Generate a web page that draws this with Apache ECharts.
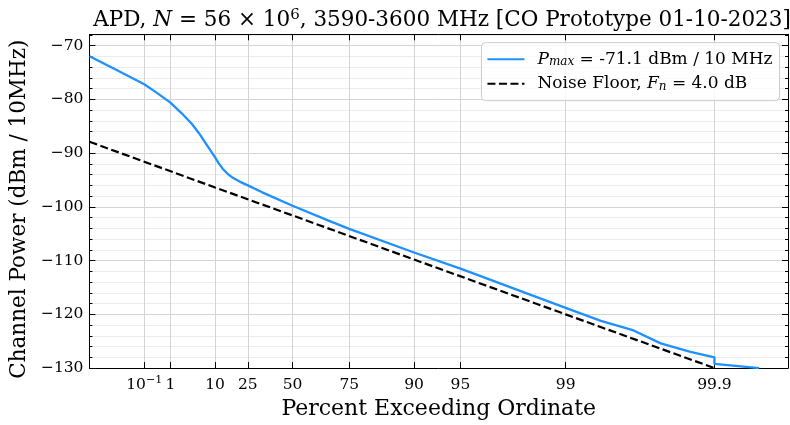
<!DOCTYPE html>
<html>
<head>
<meta charset="utf-8">
<script src="https://cdn.jsdelivr.net/npm/echarts@6/dist/echarts.min.js"></script>
<style>html,body{margin:0;padding:0;background:#fff}#c{width:790px;height:425px}</style>
</head>
<body>
<div id="c"></div>
<script>
// ---- data ----
const xTickPct = [0.1, 1, 10, 25, 50, 75, 90, 95, 99, 99.9];
const xTickLabels = ['10^-1', '1', '10', '25', '50', '75', '90', '95', '99', '99.9'];
const yTicks = [-130, -120, -110, -100, -90, -80, -70];

const apdPct = [1e-5, 0.0027, 0.1, 0.344, 1, 2.1, 3.7, 5.2, 6.7, 8.2, 10, 11.35, 12.9, 15.1, 17.8, 20.7, 25, 33, 50, 68, 75, 90, 95, 99, 99.42, 99.65, 99.77, 99.855, 99.9, 99.9, 99.95];
const apdDb  = [-72.0, -74.6, -77.2, -78.8, -80.6, -82.6, -84.6, -86.3, -87.9, -89.3, -90.8, -91.9, -92.9, -93.9, -94.7, -95.3, -96.0, -97.3, -99.8, -102.7, -104.1, -108.5, -111.5, -118.8, -121.2, -123.0, -125.4, -127.0, -128.0, -129.2, -130.0];

const noisePct = [1e-5, 0.1, 10, 50, 90, 99, 99.9];
const noiseDb  = [-87.9, -91.6, -96.4, -101.6, -109.8, -120.0, -130.0];

// Rayleigh-paper axis transform
function ray(p) { return -Math.log10(-Math.log(p / 100)); }

const FONT = 'DejaVu Serif';
const xTickVals = xTickPct.map(ray);
function xLabel(v) {
  let best = 0, bd = Infinity;
  xTickVals.forEach((t, i) => { const d = Math.abs(t - v); if (d < bd) { bd = d; best = i; } });
  const s = xTickLabels[best];
  if (s.indexOf('^') >= 0) {
    const parts = s.split('^');
    return '{b|' + parts[0] + '}{s|' + parts[1].replace('-', '\u2212') + '}';
  }
  return '{b|' + s + '}';
}

const X_MIN = -1.208, X_MAX = 3.495;
const chart = echarts.init(document.getElementById('c'), null, { renderer: 'canvas' });

const option = {
  animation: false,
  backgroundColor: '#ffffff',
  textStyle: { fontFamily: FONT },
  title: {
    text: 'APD, {i|N} = 56 × 10{sup|6}, 3590-3600 MHz [CO Prototype 01-10-2023]',
    left: 437, top: 3, textAlign: 'center',
    textStyle: {
      fontFamily: FONT, fontSize: 21.5, fontWeight: 'normal', color: '#000',
      rich: {
        i: { fontFamily: FONT, fontSize: 21.5, fontStyle: 'italic', color: '#000' },
        sup: { fontFamily: FONT, fontSize: 15, color: '#000', verticalAlign: 'top', padding: [0, 0, 9, 0] }
      }
    }
  },
  grid: { left: 87.3, right: 2, top: 34.3, bottom: 51.7 },
  legend: {
    right: 10.5, top: 42.7, orient: 'vertical',
    itemWidth: 37, itemHeight: 14, itemGap: 7,
    padding: [8, 7, 8, 5],
    backgroundColor: 'rgba(255,255,255,0.8)',
    borderColor: '#cccccc', borderWidth: 1, borderRadius: 4,
    itemStyle: { opacity: 0 },
    formatter: function (name) {
      if (name === 'apd') return '{g|}{i|P}{sub|max}{t| = -71.1 dBm / 10 MHz}';
      return '{g|}{t|Noise Floor, }{i|F}{sub|n}{t| = 4.0 dB}';
    },
    textStyle: {
      fontFamily: FONT, fontSize: 17, color: '#000',
      rich: {
        g: { width: 8 },
        t: { fontFamily: FONT, fontSize: 17, color: '#000' },
        i: { fontFamily: FONT, fontSize: 17, fontStyle: 'italic', color: '#000' },
        sub: { fontFamily: FONT, fontSize: 12, fontStyle: 'italic', color: '#000', verticalAlign: 'bottom', padding: [6, 0, 0, 0] }
      }
    },
    data: ['apd', 'noise']
  },
  xAxis: [
    {
      type: 'value', min: X_MIN, max: X_MAX, position: 'bottom',
      name: 'Percent Exceeding Ordinate', nameLocation: 'middle', nameGap: 29,
      nameTextStyle: { fontFamily: FONT, fontSize: 22, color: '#000' },
      axisLine: { show: true, onZero: false, lineStyle: { color: '#000', width: 1 } },
      axisTick: { show: true, inside: true, length: 6, customValues: xTickVals, lineStyle: { color: '#000' } },
      axisLabel: {
        show: true, customValues: xTickVals, margin: 7, formatter: xLabel,
        rich: {
          b: { fontFamily: FONT, fontSize: 15.5, color: '#000', lineHeight: 20 },
          s: { fontFamily: FONT, fontSize: 11, color: '#000', verticalAlign: 'top', padding: [0, 0, 8, 0] }
        }
      },
      splitLine: { show: true, lineStyle: { color: '#d4d4d4', width: 1 } }
    },
    {
      type: 'value', min: X_MIN, max: X_MAX, position: 'top',
      axisLine: { show: true, onZero: false, lineStyle: { color: '#000', width: 1 } },
      axisTick: { show: true, inside: true, length: 6, customValues: xTickVals, lineStyle: { color: '#000' } },
      axisLabel: { show: false },
      splitLine: { show: false }
    }
  ],
  yAxis: [
    {
      type: 'value', min: -130, max: -67.9, interval: 10, position: 'left',
      name: 'Channel Power (dBm / 10MHz)', nameLocation: 'middle', nameGap: 56,
      nameTextStyle: { fontFamily: FONT, fontSize: 21.5, color: '#000', padding: [0, 16, 0, 0] },
      axisLine: { show: true, onZero: false, lineStyle: { color: '#000', width: 1 } },
      axisTick: { show: true, inside: true, length: 6, lineStyle: { color: '#000' } },
      minorTick: { show: true, splitNumber: 5, length: 3, lineStyle: { color: '#000' } },
      axisLabel: {
        show: true, margin: 6, fontFamily: FONT, fontSize: 15.5, color: '#000',
        customValues: yTicks,
        formatter: v => String(v).replace('-', '\u2212')
      },
      splitLine: { show: true, lineStyle: { color: '#d4d4d4', width: 1 } },
      minorSplitLine: { show: true, lineStyle: { color: '#ececec', width: 1 } }
    },
    {
      type: 'value', min: -130, max: -67.9, interval: 10, position: 'right',
      axisLine: { show: true, onZero: false, lineStyle: { color: '#000', width: 1 } },
      axisTick: { show: true, inside: true, length: 6, lineStyle: { color: '#000' } },
      minorTick: { show: true, splitNumber: 5, length: 3, lineStyle: { color: '#000' } },
      axisLabel: { show: false },
      splitLine: { show: false }
    }
  ],
  series: [
    {
      name: 'apd', type: 'line', xAxisIndex: 0, yAxisIndex: 0,
      data: apdPct.map((p, i) => [ray(p), apdDb[i]]),
      showSymbol: false, symbol: 'none', clip: true,
      lineStyle: { color: '#1e90ff', width: 2.3, join: 'round' }, itemStyle: { color: '#1e90ff' },
      z: 3
    },
    {
      name: 'noise', type: 'line', xAxisIndex: 0, yAxisIndex: 0,
      data: noisePct.map((p, i) => [ray(p), noiseDb[i]]),
      showSymbol: false, symbol: 'none', clip: true,
      lineStyle: { color: '#000', width: 2.2, type: [8, 3.5] }, itemStyle: { color: '#000' },
      z: 2
    }
  ]
};
chart.setOption(option);
</script>
</body>
</html>
